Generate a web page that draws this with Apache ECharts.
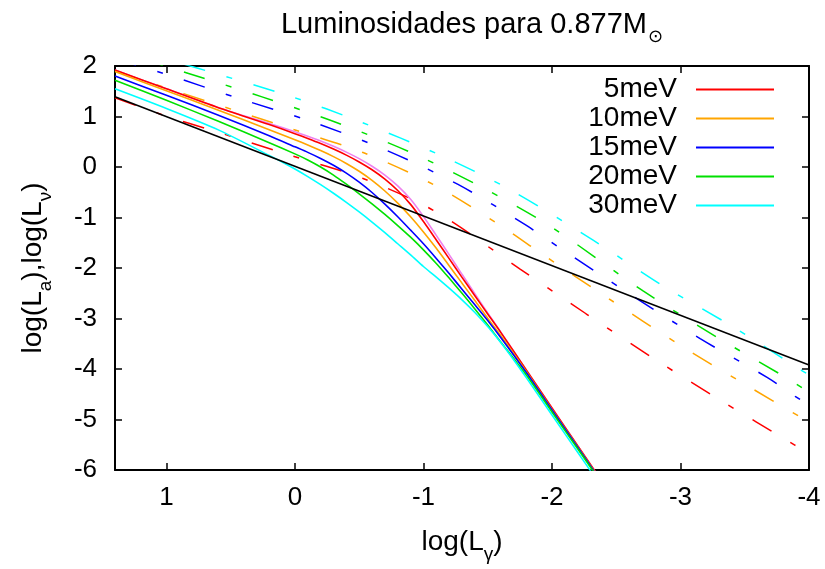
<!DOCTYPE html>
<html><head><meta charset="utf-8">
<script src="https://cdn.jsdelivr.net/npm/echarts/dist/echarts.min.js"></script>
<style>html,body{margin:0;padding:0;background:#fff}#c{width:825px;height:569px}</style>
</head><body><div id="c"></div>
<script>
// ---- data ----
const seriesNames = ['5meV', '10meV', '15meV', '20meV', '30meV'];
const xTickValues = [1, 0, -1, -2, -3, -4];
const yTickValues = [2, 1, 0, -1, -2, -3, -4, -5, -6];

// solid curves [log(Lgamma), log(L)]
const solid5 = [[1.4,1.92],[1.0,1.55],[0.6,1.18],[0.2,0.84],[0.0,0.66],[-0.1,0.565],[-0.2,0.465],[-0.3,0.355],[-0.4,0.235],[-0.5,0.10],[-0.6,-0.055],[-0.7,-0.24],[-0.8,-0.465],[-0.9,-0.74],[-1.0,-1.08],[-1.1,-1.445],[-1.2,-1.815],[-1.3,-2.185],[-1.4,-2.55],[-1.5,-2.91],[-1.6,-3.27],[-1.8,-4.02],[-2.0,-4.77],[-2.2,-5.52],[-2.35,-6.08]];
const solidRef = [[1.4,1.92],[1.0,1.55],[0.6,1.18],[0.2,0.86],[0.0,0.70],[-0.1,0.61],[-0.2,0.515],[-0.3,0.41],[-0.4,0.295],[-0.5,0.165],[-0.6,0.015],[-0.7,-0.16],[-0.8,-0.375],[-0.9,-0.64],[-1.0,-0.98],[-1.1,-1.355],[-1.2,-1.735],[-1.3,-2.125],[-1.4,-2.51],[-1.5,-2.89],[-1.6,-3.26],[-1.8,-4.02],[-2.0,-4.77],[-2.2,-5.52],[-2.35,-6.08]];
const solid10 = [[1.4,1.89],[1.0,1.51],[0.6,1.13],[0.2,0.74],[0.0,0.54],[-0.1,0.435],[-0.2,0.325],[-0.3,0.205],[-0.4,0.07],[-0.5,-0.085],[-0.6,-0.265],[-0.7,-0.475],[-0.8,-0.715],[-0.9,-0.985],[-1.0,-1.285],[-1.1,-1.61],[-1.2,-1.955],[-1.3,-2.30],[-1.4,-2.645],[-1.5,-2.995],[-1.6,-3.33],[-1.8,-4.05],[-2.0,-4.80],[-2.2,-5.54],[-2.35,-6.10]];
const solid15 = [[1.4,1.80],[1.0,1.42],[0.6,1.03],[0.2,0.62],[0.0,0.40],[-0.1,0.29],[-0.2,0.17],[-0.3,0.035],[-0.4,-0.12],[-0.5,-0.30],[-0.6,-0.505],[-0.7,-0.735],[-0.8,-0.985],[-0.9,-1.25],[-1.0,-1.52],[-1.1,-1.81],[-1.2,-2.11],[-1.3,-2.42],[-1.4,-2.73],[-1.5,-3.04],[-1.6,-3.37],[-1.8,-4.07],[-2.0,-4.81],[-2.2,-5.55],[-2.35,-6.11]];
const solid20 = [[1.4,1.72],[1.0,1.32],[0.6,0.91],[0.2,0.48],[0.0,0.26],[-0.1,0.14],[-0.2,0.0],[-0.3,-0.16],[-0.4,-0.34],[-0.5,-0.53],[-0.6,-0.73],[-0.7,-0.94],[-0.8,-1.16],[-0.9,-1.39],[-1.0,-1.64],[-1.1,-1.91],[-1.2,-2.20],[-1.3,-2.50],[-1.4,-2.81],[-1.5,-3.13],[-1.6,-3.46],[-1.8,-4.12],[-2.0,-4.85],[-2.2,-5.58],[-2.35,-6.13]];
const solid30 = [[1.4,1.55],[1.0,1.16],[0.6,0.74],[0.2,0.23],[0.1,0.10],[0.0,-0.04],[-0.1,-0.19],[-0.2,-0.35],[-0.3,-0.52],[-0.4,-0.70],[-0.5,-0.89],[-0.6,-1.09],[-0.7,-1.30],[-0.8,-1.52],[-0.9,-1.74],[-1.0,-1.97],[-1.1,-2.18],[-1.2,-2.40],[-1.3,-2.63],[-1.4,-2.88],[-1.5,-3.16],[-1.6,-3.47],[-1.7,-3.81],[-1.8,-4.17],[-2.0,-4.91],[-2.2,-5.65],[-2.35,-6.20]];

// dashed curves
const dash5 = [[1.4,1.37],[0.988,0.995],[0.637,0.719],[0.054,0.246],[-0.530,-0.227],[-1.090,-0.877],[-1.752,-2.02],[-2.265,-2.906],[-2.802,-3.81],[-3.324,-4.64],[-3.853,-5.45],[-3.93,-5.57]];
const dash10 = [[1.4,1.90],[0.458,1.113],[0.054,0.778],[-0.530,0.286],[-1.09,-0.365],[-1.619,-1.192],[-1.923,-1.724],[-2.444,-2.611],[-2.989,-3.517],[-3.542,-4.365],[-4.0,-5.05]];
const dash15 = [[1.4,2.14],[1.034,1.862],[0.451,1.369],[-0.133,0.897],[-0.717,0.325],[-1.269,-0.345],[-1.798,-1.153],[-2.063,-1.606],[-2.592,-2.493],[-3.153,-3.399],[-3.674,-4.167],[-3.892,-4.54],[-4.0,-4.72]];
const dash20 = [[1.4,2.31],[0.840,1.862],[0.256,1.389],[-0.328,0.877],[-0.903,0.286],[-1.456,-0.404],[-1.985,-1.172],[-2.709,-2.453],[-3.277,-3.36],[-3.806,-4.148],[-4.0,-4.46]];
const dash30 = [[1.4,2.42],[0.762,1.96],[0.023,1.39],[-0.507,0.897],[-1.137,0.227],[-1.682,-0.46],[-2.32,-1.448],[-2.865,-2.355],[-3.394,-3.143],[-3.907,-3.97],[-4.0,-4.12]];

// straight reference line
const blackLine = [[1.4,1.39],[-4.0,-3.92]];

// ---- styling ----
const FONT = "'Liberation Sans', Arial, sans-serif";
const colorList = ['#ff0000', '#ffa500', '#0000ff', '#00e000', '#00ffff'];
const solidData = [solid5, solid10, solid15, solid20, solid30];
const dashData = [dash5, dash10, dash15, dash20, dash30];
const dashPattern = [22, 22, 6, 22];

const rich = {
  n: { fontSize: 28, fontFamily: FONT, color: '#000', lineHeight: 32, verticalAlign: 'top' },
  s: { fontSize: 19, fontFamily: FONT, color: '#000', lineHeight: 19, padding: [17, 0, 0, 0], verticalAlign: 'top' }
};

const series = [];
dashData.forEach((d, i) => {
  series.push({ name: 'dash' + i, type: 'line', data: d, symbol: 'none', smooth: 0.3,
    color: colorList[i], lineStyle: { color: colorList[i], width: 1.5, type: dashPattern }, z: 2 });
});
series.push({ name: 'ref', type: 'line', data: solidRef, symbol: 'none', smooth: 0.25, color: '#ee82ee',
  lineStyle: { color: '#ee82ee', width: 1.6 }, z: 3 });
solidData.forEach((d, i) => {
  series.push({ name: seriesNames[i], type: 'line', data: d, symbol: 'none', smooth: 0.25, color: colorList[i],
    lineStyle: { color: colorList[i], width: 1.6 }, z: 3 });
});
series.push({ name: 'black', type: 'line', data: blackLine, symbol: 'none', color: '#000',
  lineStyle: { color: '#000', width: 1.5 }, z: 4 });

const axisLineStyle = { onZero: false, lineStyle: { color: '#000', width: 2 } };
const tickStyle = { inside: true, length: 7, lineStyle: { color: '#000', width: 1.5 } };
const intFmt = v => (Math.abs(v - Math.round(v)) < 1e-9 ? String(Math.round(v)) : '');

const option = {
  animation: false,
  backgroundColor: '#fff',
  title: {
    text: '{n|Luminosidades para 0.877M}{s|⊙}',
    left: 467, top: 5, textAlign: 'center',
    textStyle: { rich: {
      n: { fontSize: 29, fontWeight: 'normal', fontFamily: FONT, color: '#000', lineHeight: 33, verticalAlign: 'top' },
      s: { fontSize: 18, fontWeight: 'normal', fontFamily: "'DejaVu Sans', sans-serif", color: '#000', lineHeight: 18, padding: [18, 0, 0, 1], verticalAlign: 'top' }
    } }
  },
  legend: {
    data: seriesNames,
    orient: 'vertical', align: 'right', right: 51, top: 75, padding: 0,
    itemGap: 0, itemWidth: 78, itemHeight: 2, icon: 'rect',
    textStyle: { fontSize: 28, fontFamily: FONT, color: '#000', lineHeight: 29, padding: [0, 14, 0, 0] }
  },
  grid: { left: 115, right: 16, top: 66, bottom: 97, containLabel: false },
  xAxis: [{
    type: 'value', inverse: true, min: -4, max: 1.4, interval: 1,
    name: '{n|log(L}{s|γ}{n|)}', nameLocation: 'middle', nameGap: 58,
    nameTextStyle: { rich },
    axisLine: axisLineStyle, axisTick: tickStyle, splitLine: { show: false },
    axisLabel: { fontSize: 26, fontFamily: FONT, color: '#000', margin: 15, formatter: intFmt }
  }, {
    type: 'value', inverse: true, min: -4, max: 1.4, interval: 1, position: 'top',
    axisLine: axisLineStyle, axisTick: tickStyle, splitLine: { show: false }, axisLabel: { show: false }
  }],
  yAxis: [{
    type: 'value', min: -6, max: 2, interval: 1,
    name: '{n|log(L}{s|a}{n|),log(L}{s|ν}{n|)}', nameLocation: 'middle', nameGap: 64, nameRotate: 90,
    nameTextStyle: { rich },
    axisLine: axisLineStyle, axisTick: tickStyle, splitLine: { show: false },
    axisLabel: { fontSize: 26, fontFamily: FONT, color: '#000', margin: 18 }
  }, {
    type: 'value', min: -6, max: 2, interval: 1, position: 'right',
    axisLine: axisLineStyle, axisTick: tickStyle, splitLine: { show: false }, axisLabel: { show: false }
  }],
  series
};
const chart = echarts.init(document.getElementById('c'), null, { renderer: 'canvas' });
chart.setOption(option);
</script></body></html>
